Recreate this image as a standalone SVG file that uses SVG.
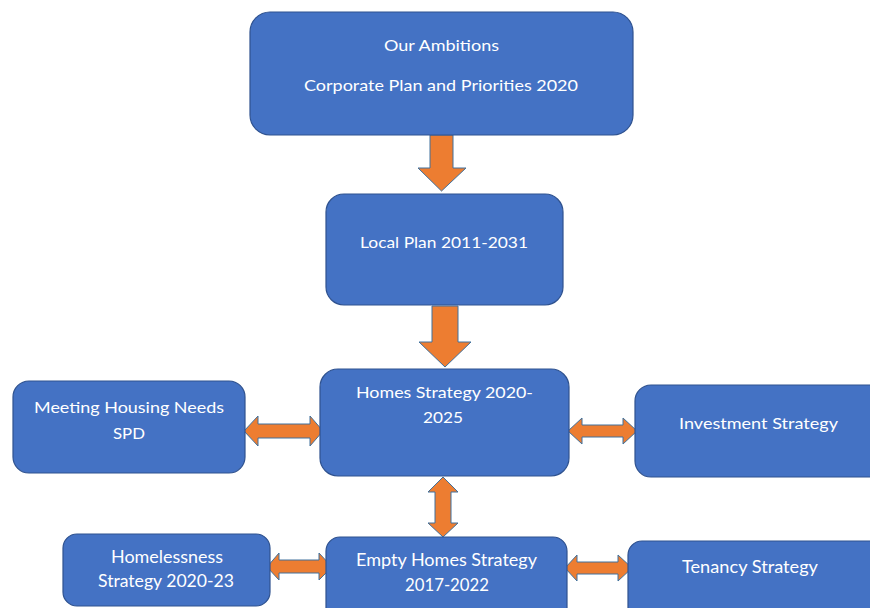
<svg xmlns="http://www.w3.org/2000/svg" width="870" height="608" viewBox="0 0 870 608">
<style>
.box{fill:#4472C4;stroke:#2F528F;stroke-width:1.2}
.arr{fill:#ED7D31;stroke:#41719C;stroke-width:1}
text{font-family:Lato,"Liberation Sans",sans-serif;font-size:16px;fill:#FFFFFF;text-anchor:middle}
text.tall{font-size:18px}
</style>
<rect width="870" height="608" fill="#FFFFFF"/>
<g id="connectors">
<polygon class="arr" points="430,135 453,135 453,168 466,168 441.5,191 418,168 430,168"/>
<polygon class="arr" points="432,306 458,306 458,342 471,342 445,367 419,342 432,342"/>
<polygon class="arr" points="244,431 258,416 258,424 310,424 310,416 323,431 310,446 310,438 258,438 258,446"/>
<polygon class="arr" points="568,431 582,418 582,425 623,425 623,418 637,431 623,444 623,437 582,437 582,444"/>
<polygon class="arr" points="443,477 458,492 451,492 451,523 458,523 443,537 428,523 435,523 435,492 428,492"/>
<polygon class="arr" points="267,567 279,553 279,560 319,560 319,553 332,567 319,580 319,573 279,573 279,580"/>
<polygon class="arr" points="565,568 577,555 577,562 618,562 618,555 632,568 618,581 618,574 577,574 577,581"/>
</g>
<g id="ambitions">
<rect class="box" x="250" y="12" width="383" height="123" rx="20"/>
<text x="441.5" y="51" textLength="115" lengthAdjust="spacingAndGlyphs">Our Ambitions</text>
<text x="441" y="91" textLength="274" lengthAdjust="spacingAndGlyphs">Corporate Plan and Priorities 2020</text>
</g>
<g id="localplan">
<rect class="box" x="326" y="194" width="237" height="111" rx="18"/>
<text x="444" y="248" textLength="168" lengthAdjust="spacingAndGlyphs">Local Plan 2011-2031</text>
</g>
<g id="homes">
<rect class="box" x="320" y="369" width="249" height="107" rx="18"/>
<text x="444.5" y="398" textLength="177" lengthAdjust="spacingAndGlyphs">Homes Strategy 2020-</text>
<text x="443" y="423" textLength="40" lengthAdjust="spacingAndGlyphs">2025</text>
</g>
<g id="meeting">
<rect class="box" x="13" y="381" width="232" height="92" rx="16"/>
<text x="129" y="413" textLength="190" lengthAdjust="spacingAndGlyphs">Meeting Housing Needs</text>
<text x="129" y="439" textLength="32" lengthAdjust="spacingAndGlyphs">SPD</text>
</g>
<g id="investment">
<rect class="box" x="635" y="385" width="260" height="92" rx="16"/>
<text x="758.5" y="429" textLength="159" lengthAdjust="spacingAndGlyphs">Investment Strategy</text>
</g>
<g id="homelessness">
<rect class="box" x="63" y="534" width="207" height="72" rx="14"/>
<text class="tall" x="167" y="563" textLength="112" lengthAdjust="spacingAndGlyphs">Homelessness</text>
<text class="tall" x="166" y="587" textLength="136" lengthAdjust="spacingAndGlyphs">Strategy 2020-23</text>
</g>
<g id="empty">
<rect class="box" x="326" y="537" width="241" height="90" rx="14"/>
<text class="tall" x="446.5" y="566" textLength="181" lengthAdjust="spacingAndGlyphs">Empty Homes Strategy</text>
<text class="tall" x="447" y="591" textLength="84" lengthAdjust="spacingAndGlyphs">2017-2022</text>
</g>
<g id="tenancy">
<rect class="box" x="628" y="541" width="260" height="80" rx="14"/>
<text class="tall" x="750" y="573" textLength="136" lengthAdjust="spacingAndGlyphs">Tenancy Strategy</text>
</g>
</svg>
